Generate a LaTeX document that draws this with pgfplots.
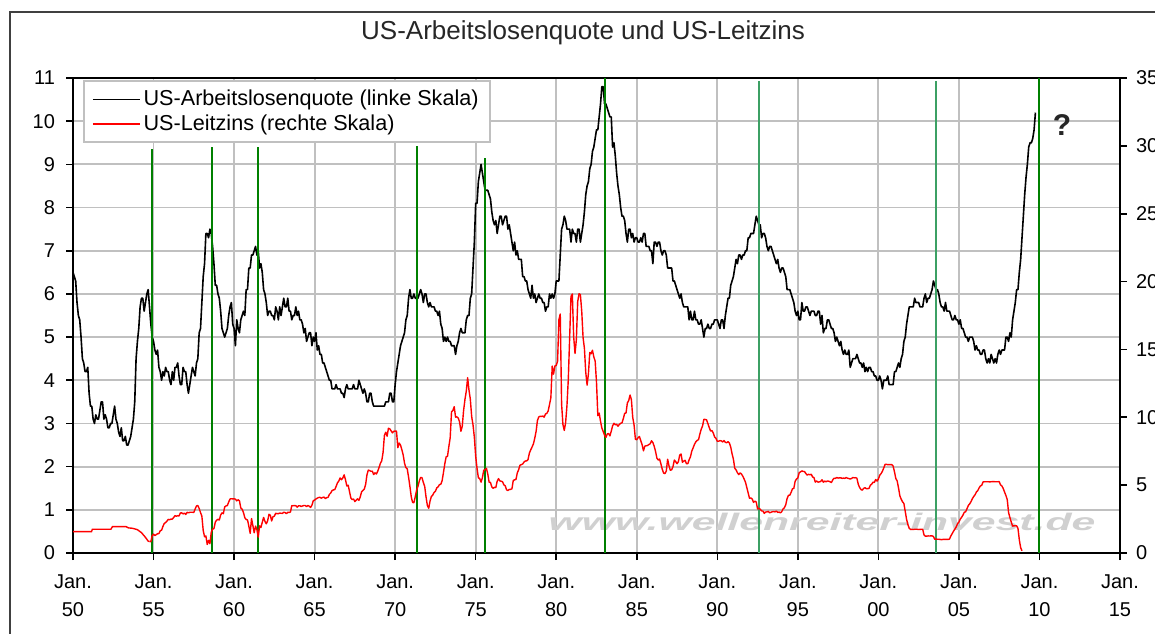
\documentclass[border=0pt]{standalone}
\usepackage{fontspec}
\setmainfont{Liberation Sans}
\usepackage{pgfplots}
\usepackage{pgfplotstable}
\pgfplotsset{compat=1.18}
\definecolor{gridgray}{RGB}{192,192,192}
\definecolor{dgreen}{RGB}{0,128,0}
\definecolor{lgreen}{RGB}{60,160,100}
\definecolor{wmgray}{RGB}{208,208,208}

% US unemployment rate, monthly, Jan 1950 - Oct 2009
\pgfplotstableread[row sep=\\,header=false]{
6.5\\6.4\\6.3\\5.8\\5.5\\5.4\\5.0\\4.5\\4.4\\4.2\\4.2\\4.3\\
3.7\\3.4\\3.4\\3.1\\3.0\\3.2\\3.1\\3.1\\3.3\\3.5\\3.5\\3.1\\
3.2\\3.1\\2.9\\2.9\\3.0\\3.0\\3.2\\3.4\\3.1\\3.0\\2.8\\2.7\\
2.9\\2.6\\2.6\\2.7\\2.5\\2.5\\2.6\\2.7\\2.9\\3.1\\3.5\\4.5\\
4.9\\5.2\\5.7\\5.9\\5.9\\5.6\\5.8\\6.0\\6.1\\5.7\\5.3\\5.0\\
4.9\\4.7\\4.6\\4.7\\4.3\\4.2\\4.0\\4.2\\4.1\\4.3\\4.2\\4.2\\
4.0\\3.9\\4.2\\4.0\\4.3\\4.3\\4.4\\4.1\\3.9\\3.9\\4.3\\4.2\\
4.2\\3.9\\3.7\\3.9\\4.1\\4.3\\4.2\\4.1\\4.4\\4.5\\5.1\\5.2\\
5.8\\6.4\\6.7\\7.4\\7.4\\7.3\\7.5\\7.4\\7.1\\6.7\\6.2\\6.2\\
6.0\\5.9\\5.6\\5.2\\5.1\\5.0\\5.1\\5.2\\5.5\\5.7\\5.8\\5.3\\
5.2\\4.8\\5.4\\5.2\\5.1\\5.4\\5.5\\5.6\\5.5\\6.1\\6.1\\6.6\\
6.6\\6.9\\6.9\\7.0\\7.1\\6.9\\7.0\\6.6\\6.7\\6.5\\6.1\\6.0\\
5.8\\5.5\\5.6\\5.6\\5.5\\5.5\\5.4\\5.7\\5.6\\5.4\\5.7\\5.5\\
5.7\\5.9\\5.7\\5.7\\5.9\\5.6\\5.6\\5.4\\5.5\\5.5\\5.7\\5.5\\
5.6\\5.4\\5.4\\5.3\\5.1\\5.2\\4.9\\5.0\\5.1\\5.1\\4.8\\5.0\\
4.9\\5.1\\4.7\\4.8\\4.6\\4.6\\4.4\\4.4\\4.3\\4.2\\4.1\\4.0\\
4.0\\3.8\\3.8\\3.8\\3.9\\3.8\\3.8\\3.8\\3.7\\3.7\\3.6\\3.8\\
3.9\\3.8\\3.8\\3.8\\3.8\\3.9\\3.8\\3.8\\3.8\\4.0\\3.9\\3.8\\
3.7\\3.8\\3.7\\3.5\\3.5\\3.7\\3.7\\3.5\\3.4\\3.4\\3.4\\3.4\\
3.4\\3.4\\3.4\\3.4\\3.4\\3.5\\3.5\\3.5\\3.7\\3.7\\3.5\\3.5\\
3.9\\4.2\\4.4\\4.6\\4.8\\4.9\\5.0\\5.1\\5.4\\5.5\\5.9\\6.1\\
5.9\\5.9\\6.0\\5.9\\5.9\\5.9\\6.0\\6.1\\6.0\\5.8\\6.0\\6.0\\
5.8\\5.7\\5.8\\5.7\\5.7\\5.7\\5.6\\5.6\\5.5\\5.6\\5.3\\5.2\\
4.9\\5.0\\4.9\\5.0\\4.9\\4.9\\4.8\\4.8\\4.8\\4.6\\4.8\\4.9\\
5.1\\5.2\\5.1\\5.1\\5.1\\5.4\\5.5\\5.5\\5.9\\6.0\\6.6\\7.2\\
8.1\\8.1\\8.6\\8.8\\9.0\\8.8\\8.6\\8.4\\8.4\\8.4\\8.3\\8.2\\
7.9\\7.7\\7.6\\7.7\\7.4\\7.6\\7.8\\7.8\\7.6\\7.7\\7.8\\7.8\\
7.5\\7.6\\7.4\\7.2\\7.0\\7.2\\6.9\\7.0\\6.8\\6.8\\6.8\\6.4\\
6.4\\6.3\\6.3\\6.1\\6.0\\5.9\\6.2\\5.9\\6.0\\5.8\\5.9\\6.0\\
5.9\\5.9\\5.8\\5.8\\5.6\\5.7\\5.7\\6.0\\5.9\\6.0\\5.9\\6.0\\
6.3\\6.3\\6.3\\6.9\\7.5\\7.6\\7.8\\7.7\\7.5\\7.5\\7.5\\7.2\\
7.5\\7.4\\7.4\\7.2\\7.5\\7.5\\7.2\\7.4\\7.6\\7.9\\8.3\\8.5\\
8.6\\8.9\\9.0\\9.3\\9.4\\9.6\\9.8\\9.8\\10.1\\10.4\\10.8\\10.8\\
10.4\\10.4\\10.3\\10.2\\10.1\\10.1\\9.4\\9.5\\9.2\\8.8\\8.5\\8.3\\
8.0\\7.8\\7.8\\7.7\\7.4\\7.2\\7.5\\7.5\\7.3\\7.4\\7.2\\7.3\\
7.3\\7.2\\7.2\\7.3\\7.2\\7.4\\7.4\\7.1\\7.1\\7.1\\7.0\\7.0\\
6.7\\7.2\\7.2\\7.1\\7.2\\7.2\\7.0\\6.9\\7.0\\7.0\\6.9\\6.6\\
6.6\\6.6\\6.6\\6.3\\6.3\\6.2\\6.1\\6.0\\5.9\\6.0\\5.8\\5.7\\
5.7\\5.7\\5.7\\5.4\\5.6\\5.4\\5.4\\5.6\\5.4\\5.4\\5.3\\5.3\\
5.4\\5.2\\5.0\\5.2\\5.2\\5.3\\5.2\\5.2\\5.3\\5.3\\5.4\\5.4\\
5.4\\5.3\\5.2\\5.4\\5.4\\5.2\\5.5\\5.7\\5.9\\5.9\\6.2\\6.3\\
6.4\\6.6\\6.8\\6.7\\6.9\\6.9\\6.8\\6.9\\6.9\\7.0\\7.0\\7.3\\
7.3\\7.4\\7.4\\7.4\\7.6\\7.8\\7.7\\7.6\\7.6\\7.3\\7.4\\7.4\\
7.3\\7.1\\7.0\\7.1\\7.1\\7.0\\6.9\\6.8\\6.7\\6.8\\6.6\\6.5\\
6.6\\6.6\\6.5\\6.4\\6.1\\6.1\\6.1\\6.0\\5.9\\5.8\\5.6\\5.5\\
5.6\\5.4\\5.4\\5.8\\5.6\\5.6\\5.7\\5.7\\5.6\\5.5\\5.6\\5.6\\
5.6\\5.5\\5.5\\5.6\\5.6\\5.3\\5.5\\5.1\\5.2\\5.2\\5.4\\5.4\\
5.3\\5.2\\5.2\\5.1\\4.9\\5.0\\4.9\\4.8\\4.9\\4.7\\4.6\\4.7\\
4.6\\4.6\\4.7\\4.3\\4.4\\4.5\\4.5\\4.5\\4.6\\4.5\\4.4\\4.4\\
4.3\\4.4\\4.2\\4.3\\4.2\\4.3\\4.3\\4.2\\4.2\\4.1\\4.1\\4.0\\
4.0\\4.1\\4.0\\3.8\\4.0\\4.0\\4.0\\4.1\\3.9\\3.9\\3.9\\3.9\\
4.2\\4.2\\4.3\\4.4\\4.3\\4.5\\4.6\\4.9\\5.0\\5.3\\5.5\\5.7\\
5.7\\5.7\\5.7\\5.9\\5.8\\5.8\\5.8\\5.7\\5.7\\5.7\\5.9\\6.0\\
5.8\\5.9\\5.9\\6.0\\6.1\\6.3\\6.2\\6.1\\6.1\\6.0\\5.8\\5.7\\
5.7\\5.6\\5.8\\5.6\\5.6\\5.6\\5.5\\5.4\\5.4\\5.5\\5.4\\5.4\\
5.3\\5.4\\5.2\\5.2\\5.1\\5.0\\5.0\\4.9\\5.0\\5.0\\5.0\\4.9\\
4.7\\4.8\\4.7\\4.7\\4.6\\4.6\\4.7\\4.7\\4.5\\4.4\\4.5\\4.4\\
4.6\\4.5\\4.4\\4.5\\4.4\\4.6\\4.7\\4.6\\4.7\\4.7\\4.7\\5.0\\
5.0\\4.9\\5.1\\5.0\\5.4\\5.6\\5.8\\6.1\\6.1\\6.5\\6.8\\7.3\\
7.8\\8.3\\8.7\\9.0\\9.4\\9.5\\9.5\\9.6\\9.8\\10.2\\
}\unemp

% US policy rate (fed funds), monthly, Oct 1954 - Dec 2008
\pgfplotstableread[row sep=\\,header=false]{
0.85\\0.83\\1.28\\
1.39\\1.29\\1.35\\1.43\\1.43\\1.64\\1.68\\1.96\\2.18\\2.24\\2.35\\2.48\\
2.45\\2.50\\2.50\\2.62\\2.75\\2.71\\2.75\\2.73\\2.95\\2.96\\2.88\\2.94\\
2.84\\3.00\\2.96\\3.00\\3.00\\3.00\\2.99\\3.24\\3.47\\3.50\\3.28\\2.98\\
2.72\\1.67\\1.20\\1.26\\0.63\\0.93\\0.68\\1.53\\1.76\\1.80\\2.27\\2.42\\
2.48\\2.43\\2.80\\2.96\\2.90\\3.39\\3.47\\3.50\\3.76\\3.98\\4.00\\3.99\\
3.99\\3.97\\3.84\\3.92\\3.85\\3.32\\3.23\\2.98\\2.60\\2.47\\2.44\\1.98\\
1.45\\2.54\\2.02\\1.49\\1.98\\1.73\\1.17\\2.00\\1.88\\2.26\\2.62\\2.33\\
2.15\\2.37\\2.85\\2.78\\2.36\\2.68\\2.71\\2.93\\2.90\\2.90\\2.94\\2.93\\
2.92\\3.00\\2.98\\2.90\\3.00\\2.99\\3.02\\3.49\\3.48\\3.50\\3.48\\3.38\\
3.48\\3.48\\3.43\\3.47\\3.50\\3.50\\3.42\\3.50\\3.45\\3.36\\3.52\\3.85\\
3.90\\3.98\\4.04\\4.09\\4.10\\4.04\\4.09\\4.12\\4.01\\4.08\\4.10\\4.32\\
4.42\\4.60\\4.65\\4.67\\4.90\\5.17\\5.30\\5.53\\5.40\\5.53\\5.76\\5.40\\
4.94\\5.00\\4.53\\4.05\\3.94\\3.98\\3.79\\3.90\\3.99\\3.88\\4.13\\4.51\\
4.61\\4.71\\5.05\\5.76\\6.11\\6.07\\6.02\\6.03\\5.78\\5.91\\5.82\\6.02\\
6.30\\6.61\\6.79\\7.41\\8.67\\8.90\\8.61\\9.19\\9.15\\9.00\\8.85\\8.97\\
8.98\\8.98\\7.76\\8.10\\7.95\\7.61\\7.21\\6.61\\6.29\\6.20\\5.60\\4.90\\
4.14\\3.72\\3.71\\4.16\\4.63\\4.91\\5.31\\5.57\\5.55\\5.20\\4.91\\4.14\\
3.50\\3.29\\3.83\\4.17\\4.27\\4.46\\4.55\\4.80\\4.87\\5.04\\5.06\\5.33\\
5.94\\6.58\\7.09\\7.12\\7.84\\8.49\\10.40\\10.50\\10.78\\10.01\\10.03\\9.95\\
9.65\\8.97\\9.35\\10.51\\11.31\\11.93\\12.92\\12.01\\11.34\\10.06\\9.45\\8.53\\
7.13\\6.24\\5.54\\5.49\\5.22\\5.55\\6.10\\6.14\\6.24\\5.82\\5.22\\5.20\\
4.87\\4.77\\4.84\\4.82\\5.29\\5.48\\5.31\\5.29\\5.25\\5.02\\4.95\\4.65\\
4.61\\4.68\\4.69\\4.73\\5.35\\5.39\\5.42\\5.90\\6.14\\6.47\\6.51\\6.56\\
6.70\\6.78\\6.79\\6.89\\7.36\\7.60\\7.81\\8.04\\8.45\\8.96\\9.76\\10.03\\
10.07\\10.06\\10.09\\10.01\\10.24\\10.29\\10.47\\10.94\\11.43\\13.77\\13.18\\13.78\\
13.82\\14.13\\17.19\\17.61\\10.98\\9.47\\9.03\\9.61\\10.87\\12.81\\15.85\\18.90\\
19.08\\15.93\\14.70\\15.72\\18.52\\19.10\\19.04\\17.82\\15.87\\15.08\\13.31\\12.37\\
13.22\\14.78\\14.68\\14.94\\14.45\\14.15\\12.59\\10.12\\10.31\\9.71\\9.20\\8.95\\
8.68\\8.51\\8.77\\8.80\\8.63\\8.98\\9.37\\9.56\\9.45\\9.48\\9.34\\9.47\\
9.56\\9.59\\9.91\\10.29\\10.32\\11.06\\11.23\\11.64\\11.30\\9.99\\9.43\\8.38\\
8.35\\8.50\\8.58\\8.27\\7.97\\7.53\\7.88\\7.90\\7.92\\7.99\\8.05\\8.27\\
8.14\\7.86\\7.48\\6.99\\6.85\\6.92\\6.56\\6.17\\5.89\\5.85\\6.04\\6.91\\
6.43\\6.10\\6.13\\6.37\\6.85\\6.73\\6.58\\6.73\\7.22\\7.29\\6.69\\6.77\\
6.83\\6.58\\6.58\\6.87\\7.09\\7.51\\7.75\\8.01\\8.19\\8.30\\8.35\\8.76\\
9.12\\9.36\\9.85\\9.84\\9.81\\9.53\\9.24\\8.99\\9.02\\8.84\\8.55\\8.45\\
8.23\\8.24\\8.28\\8.26\\8.18\\8.29\\8.15\\8.13\\8.20\\8.11\\7.81\\7.31\\
6.91\\6.25\\6.12\\5.91\\5.78\\5.90\\5.82\\5.66\\5.45\\5.21\\4.81\\4.43\\
4.03\\4.06\\3.98\\3.73\\3.82\\3.76\\3.25\\3.30\\3.22\\3.10\\3.09\\2.92\\
3.02\\3.03\\3.07\\2.96\\3.00\\3.04\\3.06\\3.03\\3.09\\2.99\\3.02\\2.96\\
3.05\\3.25\\3.34\\3.56\\4.01\\4.25\\4.26\\4.47\\4.73\\4.76\\5.29\\5.45\\
5.53\\5.92\\5.98\\6.05\\6.01\\6.00\\5.85\\5.74\\5.80\\5.76\\5.80\\5.60\\
5.56\\5.22\\5.31\\5.22\\5.24\\5.27\\5.40\\5.22\\5.30\\5.24\\5.31\\5.29\\
5.25\\5.19\\5.39\\5.51\\5.50\\5.56\\5.52\\5.54\\5.54\\5.50\\5.52\\5.50\\
5.56\\5.51\\5.49\\5.45\\5.49\\5.56\\5.54\\5.55\\5.51\\5.07\\4.83\\4.68\\
4.63\\4.76\\4.81\\4.74\\4.74\\4.76\\4.99\\5.07\\5.22\\5.20\\5.42\\5.30\\
5.45\\5.73\\5.85\\6.02\\6.27\\6.53\\6.54\\6.50\\6.52\\6.51\\6.51\\6.40\\
5.98\\5.49\\5.31\\4.80\\4.21\\3.97\\3.77\\3.65\\3.07\\2.49\\2.09\\1.82\\
1.73\\1.74\\1.73\\1.75\\1.75\\1.75\\1.73\\1.74\\1.75\\1.75\\1.34\\1.24\\
1.24\\1.26\\1.25\\1.26\\1.26\\1.22\\1.01\\1.03\\1.01\\1.01\\1.00\\0.98\\
1.00\\1.01\\1.00\\1.00\\1.00\\1.03\\1.26\\1.43\\1.61\\1.76\\1.93\\2.16\\
2.28\\2.50\\2.63\\2.79\\3.00\\3.04\\3.26\\3.50\\3.62\\3.78\\4.00\\4.16\\
4.29\\4.49\\4.59\\4.79\\4.94\\4.99\\5.24\\5.25\\5.25\\5.25\\5.25\\5.24\\
5.25\\5.26\\5.26\\5.25\\5.25\\5.25\\5.26\\5.02\\4.94\\4.76\\4.49\\4.24\\
3.94\\2.98\\2.61\\2.28\\1.98\\2.00\\2.01\\2.00\\1.81\\0.97\\0.39\\0.16\\
}\fedfunds

\pgfplotsset{
  baseaxis/.style={
    at={(36.5pt,40pt)}, anchor=south west, scale only axis,
    width=523.5pt, height=237.5pt,
    xmin=1950, xmax=2015,
    axis line style={black, line width=1pt},
    tick align=outside, major tick length=3.5pt,
    tick style={black, line width=0.8pt},
    ticklabel style={font=\fontsize{10}{14}\selectfont, text=black},
    /pgf/number format/assume math mode=true,
  }
}

\begin{document}
\begin{tikzpicture}
\path[use as bounding box] (0pt,0pt) rectangle (577.5pt,316.5pt);
\draw[line width=1pt, black!75] (5pt,310.5pt) rectangle (700pt,-50pt);
\node[font=\fontsize{13}{15}\selectfont, text=black!85] at (291.5pt,300pt) {US-Arbeitslosenquote und US-Leitzins};

\begin{axis}[baseaxis,
  ymin=0, ymax=11,
  xtick={1950,1955,...,2015},
  xticklabels={{Jan.\\50},{Jan.\\55},{Jan.\\60},{Jan.\\65},{Jan.\\70},{Jan.\\75},{Jan.\\80},{Jan.\\85},{Jan.\\90},{Jan.\\95},{Jan.\\00},{Jan.\\05},{Jan.\\10},{Jan.\\15}},
  xticklabel style={align=center, yshift=-4pt},
  ytick={0,1,...,11},
  yticklabel style={xshift=-2pt},
  xtick pos=left, ytick pos=left,
  grid=major, major grid style={gridgray, line width=0.9pt},
]
\node[text=wmgray, font=\bfseries\itshape\fontsize{12}{12}\selectfont] at (axis cs:1996.5,0.72) {\scalebox{1.78}[1]{www.wellenreiter-invest.de}};
\addplot[black, line width=0.8pt, line join=round] table[x expr=1950+\coordindex/12, y index=0] {\unemp};
\addplot[dgreen, line width=0.9pt] coordinates {(1954.92,0) (1954.92,9.36)};
\addplot[dgreen, line width=0.9pt] coordinates {(1958.65,0) (1958.65,9.40)};
\addplot[dgreen, line width=0.9pt] coordinates {(1961.50,0) (1961.50,9.40)};
\addplot[dgreen, line width=0.9pt] coordinates {(1971.34,0) (1971.34,9.43)};
\addplot[dgreen, line width=0.9pt] coordinates {(1975.58,0) (1975.58,9.15)};
\addplot[dgreen, line width=0.9pt] coordinates {(1983.03,0) (1983.03,11)};
\addplot[lgreen, line width=0.9pt] coordinates {(1992.61,0) (1992.61,10.92)};
\addplot[lgreen, line width=0.9pt] coordinates {(2003.56,0) (2003.56,10.92)};
\addplot[dgreen, line width=0.9pt] coordinates {(2009.99,0) (2009.99,11)};
\node[font=\bfseries\fontsize{15}{15}\selectfont, text=black!85] at (axis cs:2011.4,9.9) {?};
\end{axis}

\begin{axis}[baseaxis,
  ymin=0, ymax=35,
  axis x line=none, axis y line*=right,
  ytick={0,5,...,35},
  yticklabel style={xshift=1pt},
  legend style={at={(0.0096,0.9958)}, anchor=north west, draw=gridgray, line width=1pt,
    fill=white, inner xsep=4pt, inner ysep=3pt, row sep=0pt,
    font=\fontsize{10.8}{13}\selectfont, nodes={inner sep=1.5pt}},
  legend cell align=left,
  legend image code/.code={\draw[#1] (0pt,0pt) -- (23.5pt,0pt);},
]
\addlegendimage{black, line width=0.8pt}
\addlegendentry{US-Arbeitslosenquote (linke Skala)}
\addplot[red, line width=0.7pt, forget plot] coordinates {
(1950.0,1.57) (1951.15,1.57) (1951.2,1.75) (1952.35,1.75) (1952.45,1.94)
(1953.3,1.94) (1953.45,1.85) (1953.7,1.82) (1954.0,1.72) (1954.25,1.5)
(1954.5,1.15) (1954.67,0.87) (1954.75,0.85)};
\addplot[red, line width=0.7pt, line join=round] table[x expr=1954.75+\coordindex/12, y index=0] {\fedfunds};
\addlegendentry{US-Leitzins (rechte Skala)}
\end{axis}
\end{tikzpicture}
\end{document}
